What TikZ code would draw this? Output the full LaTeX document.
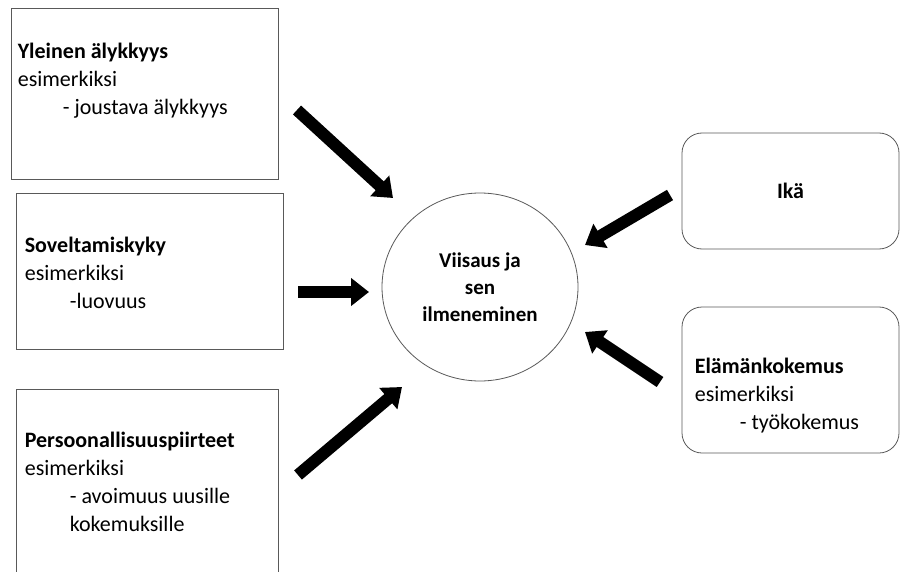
\documentclass[tikz,border=0pt]{standalone}
\usepackage{fontspec}
\setmainfont{Carlito}
\usetikzlibrary{positioning}
\usetikzlibrary{arrows.meta}
\usetikzlibrary{shapes.geometric}
\newcommand{\sisennys}{\hspace*{45pt}}

\begin{document}
\begin{tikzpicture}[x=1pt,y=-1pt]
\tikzstyle{box}=[rectangle,draw=black!65,line width=0.8pt,inner sep=0pt]
\tikzstyle{roundbox}=[box,rounded corners=20pt]
\tikzstyle{txt}=[align=left,inner sep=0pt,font=\fontsize{22}{28}\selectfont]
\tikzstyle{bigarrow}=[line width=12pt,-{Triangle[width=27pt,length=18pt]}]
\clip (0,0) rectangle (901,572);
% vasen puoli
\node[box,minimum width=267pt,minimum height=171pt] at(144.5, 93.5) (yleinen) {};
\node[txt,below right=35pt and 7pt of yleinen.north west] (yleinen-txt)
    {\textbf{Yleinen älykkyys}\\
     esimerkiksi\\
     \sisennys- joustava älykkyys};
\node[box,minimum width=267pt,minimum height=156pt] at(149.5, 271) (sovelt) {};
\node[txt,below right=44pt and 9pt of sovelt.north west] (sovelt-txt)
    {\textbf{Soveltamiskyky}\\
     esimerkiksi\\
     \sisennys-luovuus};
\node[box,minimum width=262pt,minimum height=200pt] at(147, 489) (persoona) {};
\node[txt,below right=43pt and 9pt of persoona.north west] (persoona-txt)
    {\textbf{Persoonallisuuspiirteet}\\
     esimerkiksi\\
     \sisennys- avoimuus uusille\\
     \sisennys kokemuksille};
% keskella
\node[ellipse,draw=black!65,line width=0.8pt,minimum width=196pt,minimum height=188pt,
      align=center,font=\bfseries\fontsize{21}{27}\selectfont] at(480, 287) (viisaus)
    {Viisaus ja\\ sen\\ ilmeneminen};
% oikea puoli
\node[roundbox,minimum width=217pt,minimum height=116pt,font=\bfseries\fontsize{22}{28}\selectfont]
    at(790.5, 191) (ika) {Ikä};
\node[roundbox,minimum width=217pt,minimum height=146pt] at(790.5, 380) (elama) {};
\node[txt,below right=51pt and 13pt of elama.north west] (elama-txt)
    {\textbf{Elämänkokemus}\\
     esimerkiksi\\
     \sisennys- työkokemus};
% nuolet
\coordinate (n1a) at(297, 110);
\coordinate (n1b) at(393, 198);
\coordinate (n2a) at(298, 292);
\coordinate (n2b) at(369, 292);
\coordinate (n3a) at(298, 475);
\coordinate (n3b) at(402, 387);
\coordinate (n4a) at(670, 195);
\coordinate (n4b) at(585, 245);
\coordinate (n5a) at(660, 382);
\coordinate (n5b) at(585, 332);
\draw[bigarrow] (n1a) -- (n1b);
\draw[bigarrow] (n2a) -- (n2b);
\draw[bigarrow] (n3a) -- (n3b);
\draw[bigarrow] (n4a) -- (n4b);
\draw[bigarrow] (n5a) -- (n5b);
\end{tikzpicture}
\end{document}
